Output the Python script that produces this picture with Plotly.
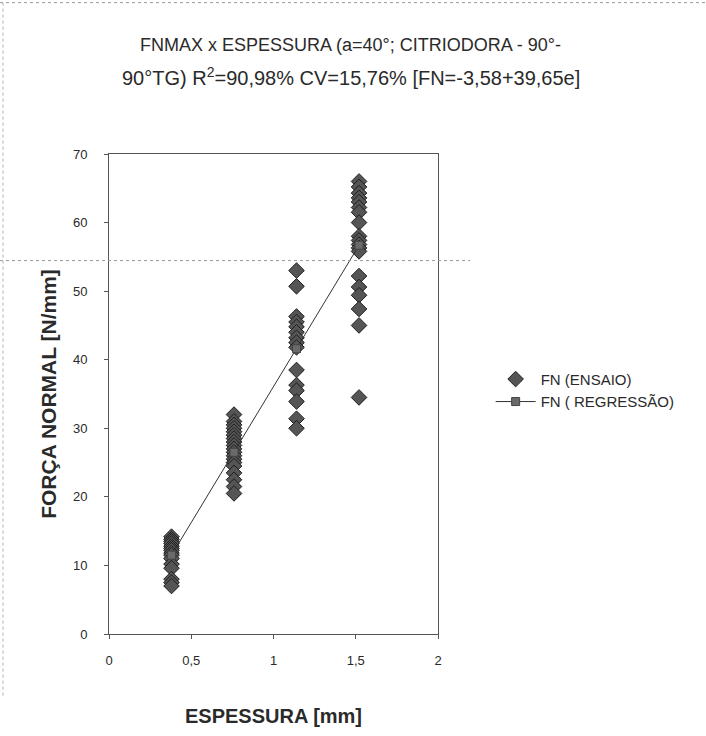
import plotly.graph_objects as go

# ---- data ----
x_groups = [0.38, 0.76, 1.14, 1.52]

fn_g1 = [14.2, 13.8, 13.5, 13.2, 12.8, 12.5, 12.2, 11.8, 11.5, 11.0, 10.2, 9.6, 8.0, 7.5, 7.0]
fn_g2 = [32.0, 31.0, 30.5, 30.0, 29.5, 29.0, 28.5, 28.0, 27.5, 27.0, 26.5, 26.0, 25.5, 25.0,
         24.5, 23.5, 22.5, 21.5, 20.5]
fn_g3 = [53.0, 50.7, 46.3, 45.5, 44.8, 44.0, 43.2, 42.5, 41.8, 38.5, 36.3, 35.5, 33.9, 31.4, 30.0]
fn_g4 = [66.0, 65.2, 64.3, 63.6, 63.0, 62.2, 61.5, 60.0, 58.0, 57.4, 56.8, 56.3, 55.8,
         52.2, 50.6, 49.4, 47.4, 45.0, 34.5]

fn_regression = [11.5, 26.5, 41.6, 56.7]

x_ticks = [0, 0.5, 1, 1.5, 2]
x_tick_text = ["0", "0,5", "1", "1,5", "2"]
y_ticks = [0, 10, 20, 30, 40, 50, 60, 70]

title_line1 = "FNMAX x ESPESSURA (a=40°; CITRIODORA - 90°-"
title_line2 = "90°TG) R<sup>2</sup>=90,98% CV=15,76% [FN=-3,58+39,65e]"

# ---- build ----
ens_x, ens_y = [], []
for xg, vals in zip(x_groups, [fn_g1, fn_g2, fn_g3, fn_g4]):
    ens_x += [xg] * len(vals)
    ens_y += vals

FONT = "Liberation Sans, Arial, sans-serif"
TXT = "#2a2a2a"

fig = go.Figure()
fig.add_trace(go.Scatter(
    x=ens_x, y=ens_y, mode="markers", name="FN (ENSAIO)",
    marker=dict(symbol="diamond", size=12, color="#555555",
                line=dict(color="#1e1e1e", width=1)),
))
fig.add_trace(go.Scatter(
    x=x_groups, y=fn_regression, mode="lines+markers", name="FN ( REGRESSÃO)",
    line=dict(color="#333333", width=1),
    marker=dict(symbol="square", size=8, color="#6a6a6a",
                line=dict(color="#444444", width=1)),
))

L, R, T, B = 109, 268, 154, 100
fig.update_layout(
    width=706, height=736,
    margin=dict(l=L, r=R, t=T, b=B),
    paper_bgcolor="white", plot_bgcolor="white",
    font=dict(family=FONT, color=TXT, size=13),
    showlegend=True,
    legend=dict(x=1.16, y=0.565, xanchor="left", yanchor="top",
                font=dict(family=FONT, size=15, color=TXT),
                bgcolor="rgba(0,0,0,0)", tracegroupgap=0, itemwidth=40),
    xaxis=dict(range=[0, 2], tickvals=x_ticks, ticktext=x_tick_text,
               showgrid=False, zeroline=False,
               showline=True, linecolor="#555555", linewidth=1, mirror=True,
               ticks="outside", ticklen=4, tickcolor="#555555",
               ticklabelstandoff=10,
               tickfont=dict(size=13, color=TXT),
               title=dict(text="<b>ESPESSURA [mm]</b>", font=dict(size=20, color=TXT), standoff=42)),
    yaxis=dict(range=[0, 70], tickvals=y_ticks,
               showgrid=False, zeroline=False,
               showline=True, linecolor="#555555", linewidth=1, mirror=True,
               ticks="outside", ticklen=4, tickcolor="#555555",
               ticklabelstandoff=14,
               tickfont=dict(size=13, color=TXT),
               title=dict(text="<b>FORÇA NORMAL [N/mm]</b>", font=dict(size=21, color=TXT), standoff=10)),
)

ph = 736 - T - B
pw = 706 - L - R
def px_to_py(py):
    return (736 - B - py) / ph
def px_to_px(px):
    return (px - L) / pw

fig.add_annotation(text=title_line1, x=px_to_px(350), y=px_to_py(45), xref="paper", yref="paper",
                   showarrow=False, xanchor="center", yanchor="middle",
                   font=dict(family=FONT, size=18, color=TXT))
fig.add_annotation(text=title_line2, x=px_to_px(351), y=px_to_py(76), xref="paper", yref="paper",
                   showarrow=False, xanchor="center", yanchor="middle",
                   font=dict(family=FONT, size=20, color=TXT))

# faint scan artefacts (page frame and a dotted crease)
fig.add_shape(type="line", xref="paper", yref="paper",
              x0=px_to_px(0), x1=px_to_px(470), y0=px_to_py(261), y1=px_to_py(261),
              line=dict(color="#9a9a9a", width=1, dash="dot"))
fig.add_shape(type="line", xref="paper", yref="paper",
              x0=px_to_px(3), x1=px_to_px(3), y0=px_to_py(2), y1=px_to_py(700),
              line=dict(color="#b0b0b0", width=1, dash="dot"))
fig.add_shape(type="line", xref="paper", yref="paper",
              x0=px_to_px(0), x1=px_to_px(706), y0=px_to_py(2), y1=px_to_py(2),
              line=dict(color="#9a9a9a", width=1, dash="dot"))

fig.write_html("out.html")
